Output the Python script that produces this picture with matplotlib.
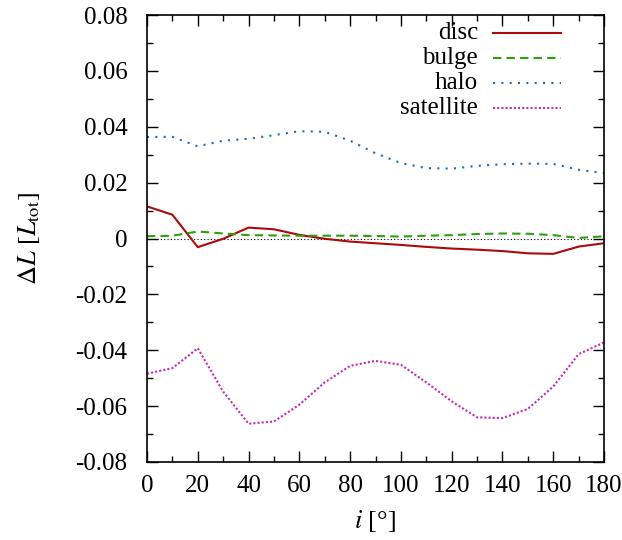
import numpy as np
import matplotlib
matplotlib.use("Agg")
import matplotlib.pyplot as plt
from matplotlib.ticker import MultipleLocator, FuncFormatter

plt.rcParams['font.family'] = ['Liberation Serif', 'DejaVu Serif']
plt.rcParams['mathtext.fontset'] = 'stix'
plt.rcParams['axes.unicode_minus'] = False

# inclination angle in degrees
incl = [0, 10, 20, 30, 40, 50, 60, 70, 80, 90, 100, 110, 120, 130, 140, 150, 160, 170, 180]

disc = [0.0115, 0.0085, -0.0031, -0.0001, 0.0039, 0.0033, 0.0013, -0.0001, -0.0011, -0.0017,
        -0.0023, -0.0030, -0.0036, -0.0040, -0.0045, -0.0053, -0.0055, -0.0029, -0.0017]
bulge = [0.0008, 0.0010, 0.0025, 0.0018, 0.0012, 0.0011, 0.0010, 0.0010, 0.0010, 0.0009,
         0.0007, 0.0010, 0.0012, 0.0016, 0.0018, 0.0017, 0.0012, 0.0002, 0.0008]
halo = [0.0363, 0.0364, 0.0330, 0.0350, 0.0357, 0.0370, 0.0384, 0.0382, 0.0350, 0.0305,
        0.0270, 0.0252, 0.0250, 0.0260, 0.0266, 0.0268, 0.0267, 0.0246, 0.0234]
satellite = [-0.0484, -0.0464, -0.0393, -0.0548, -0.0663, -0.0655, -0.0595, -0.0515, -0.0456, -0.0438,
             -0.0452, -0.0515, -0.0583, -0.0640, -0.0643, -0.0610, -0.0530, -0.0414, -0.0372]

names = ['disc', 'bulge', 'halo', 'satellite']
series = [disc, bulge, halo, satellite]
colors = ['#aa0a0a', '#2ca00c', '#1f6db5', '#c42bb0']
styles = ['-', (0, (4, 2.5)), (0, (1, 3)), (0, (1, 1))]

W, H = 622, 540
fig = plt.figure(figsize=(W/100, H/100), dpi=100)
ax = fig.add_axes([147/W, 1 - 462/H, (604-147)/W, (462-15)/H])

ax.axhline(0, color='black', lw=0.8, ls=(0, (1, 2)), zorder=1)
for y, c, s in zip(series, colors, styles):
    ax.plot(incl, y, color=c, lw=1.5, ls=s)

# legend by hand: text right aligned, sample line to its right
for k, (name, c, s) in enumerate(zip(names, colors, styles)):
    yp = 1 - (33 + 25*k - 15) / (462 - 15)
    ax.text((478-147)/(604-147), yp, name, transform=ax.transAxes, ha='right', va='center', fontsize=18)
    ax.plot([(493-147)/(604-147), (561-147)/(604-147)], [yp, yp], transform=ax.transAxes,
            color=c, lw=1.5, ls=s)

ax.set_xlim(0, 180)
ax.set_ylim(-0.08, 0.08)
ax.xaxis.set_major_locator(MultipleLocator(20))
ax.xaxis.set_minor_locator(MultipleLocator(10))
ax.yaxis.set_major_locator(MultipleLocator(0.02))
ax.yaxis.set_minor_locator(MultipleLocator(0.01))
ax.yaxis.set_major_formatter(FuncFormatter(lambda v, p: '0' if abs(v) < 1e-9 else '%.2f' % v))
ax.tick_params(which='both', direction='in', top=True, right=True, labelsize=18, width=1)
ax.tick_params(which='major', length=8)
ax.tick_params(which='minor', length=4)
ax.tick_params(axis='x', pad=9)
ax.tick_params(axis='y', pad=14)
for sp in ax.spines.values():
    sp.set_linewidth(1.2)

ax.set_xlabel(r'$i$ [°]', fontsize=19, labelpad=8)
ax.set_ylabel(r'$\Delta L$ [$L_{\rm tot}$]', fontsize=19, labelpad=24)

fig.savefig('out.png', dpi=100)
